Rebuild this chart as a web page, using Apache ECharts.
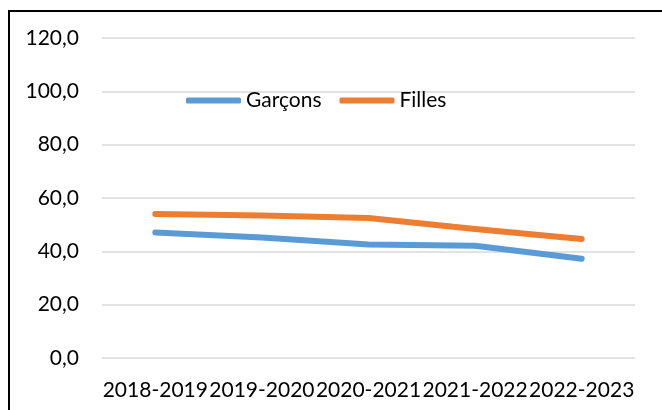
<!DOCTYPE html>
<html>
<head>
<meta charset="utf-8">
<script src="https://cdn.jsdelivr.net/npm/echarts@6/dist/echarts.min.js"></script>
<style>
    html, body { margin: 0; padding: 0; background: #fff; }
    #chart { width: 662px; height: 410px; position: absolute; left: 0; top: 0; }
    #frame {
        position: absolute; left: 8px; top: 10px; width: 660px; height: 410px;
        border-left: 2px solid #000; border-top: 2px solid #000; pointer-events: none;
    }
</style>
</head>
<body>
<div id="chart"></div>
<div id="frame"></div>
<script>
const years = ["2018-2019", "2019-2020", "2020-2021", "2021-2022", "2022-2023"];
const garcons = [47.1, 45.2, 42.6, 42.1, 37.2];
const filles = [54.0, 53.4, 52.5, 48.4, 44.6];
const yTicks = [0, 20, 40, 60, 80, 100, 120];

const chartDom = document.getElementById("chart");
const chart = echarts.init(chartDom);
const font = "Lato, 'Liberation Sans', sans-serif";

const option = {
    animation: false,
    legend: {
        left: 181,
        top: 85,
        itemWidth: 55,
        itemHeight: 6,
        itemGap: 18,
        icon: "roundRect",
        textStyle: { fontFamily: font, fontSize: 21, color: "#000" },
        data: ["Garçons", "Filles"],
    },
    grid: {
        left: 102,
        right: 27,
        top: 38,
        bottom: 52,
    },
    xAxis: {
        type: "category",
        data: years,
        axisLine: { show: false },
        axisTick: { show: false },
        axisLabel: {
            interval: 0,
            margin: 22,
            fontFamily: font,
            fontSize: 21,
            color: "#000",
        },
    },
    yAxis: {
        type: "value",
        min: yTicks[0],
        max: yTicks[yTicks.length - 1],
        interval: 20,
        axisLine: { show: false },
        axisTick: { show: false },
        axisLabel: {
            margin: 23,
            fontFamily: font,
            fontSize: 21,
            color: "#000",
            formatter: function (v) {
                return v.toFixed(1).replace(".", ",");
            },
        },
        splitLine: { lineStyle: { color: "#d9d9d9", width: 1.5 } },
    },
    series: [
        {
            name: "Garçons",
            type: "line",
            data: garcons,
            showSymbol: false,
            symbol: "none",
            lineStyle: { color: "#5b9bd5", width: 6, cap: "round", join: "round" },
            itemStyle: { color: "#5b9bd5" },
        },
        {
            name: "Filles",
            type: "line",
            data: filles,
            showSymbol: false,
            symbol: "none",
            lineStyle: { color: "#ed7d31", width: 6, cap: "round", join: "round" },
            itemStyle: { color: "#ed7d31" },
        },
    ],
};

chart.setOption(option);
</script>
</body>
</html>
